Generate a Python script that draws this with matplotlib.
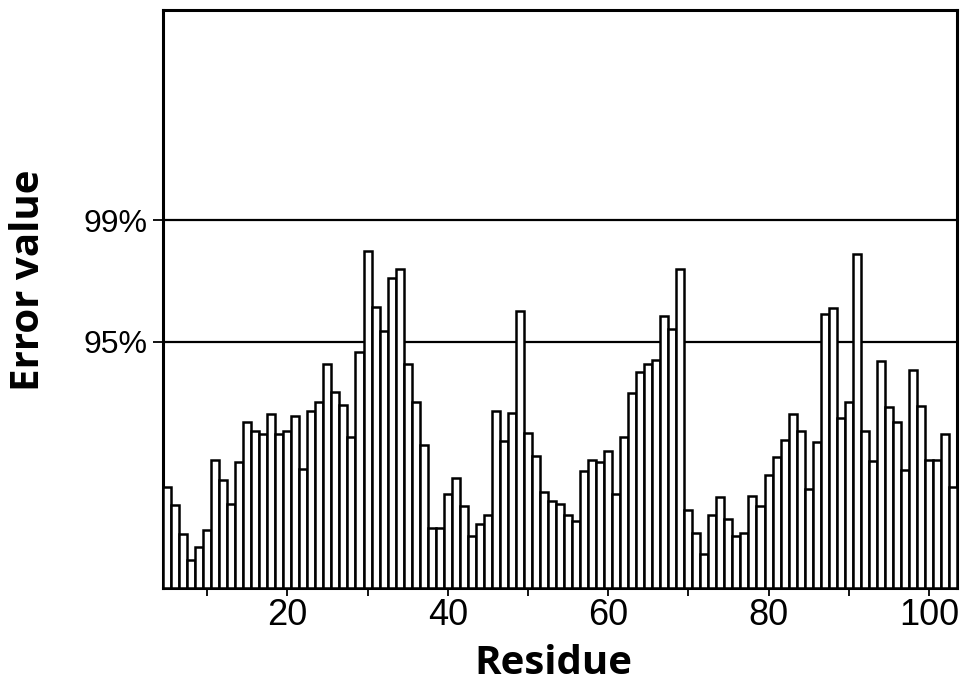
import matplotlib
matplotlib.use("Agg")
import matplotlib.pyplot as plt

# Residue numbers and error values (arbitrary units)
residues = list(range(5, 104))
errors = [101, 83, 54, 28, 41, 58, 128, 108, 84, 126,
          166, 157, 154, 174, 154, 157, 172, 119, 177, 186,
          224, 196, 183, 151, 236, 336, 281, 257, 309, 318,
          224, 186, 143, 60, 60, 94, 110, 82, 52, 64,
          73, 177, 147, 175, 277, 155, 132, 96, 87, 84,
          73, 67, 117, 128, 126, 137, 94, 151, 195, 216,
          224, 228, 272, 259, 318, 78, 55, 34, 73, 91,
          69, 52, 55, 92, 82, 113, 131, 148, 174, 157,
          99, 146, 274, 280, 170, 186, 333, 157, 127, 227,
          181, 166, 118, 218, 182, 128, 128, 154, 101]

threshold_values = [246, 367]
threshold_labels = ["95%", "99%"]
x_ticks = [10, 20, 30, 40, 50, 60, 70, 80, 90, 100]
x_ticklabels = ["", "20", "", "40", "", "60", "", "80", "", "100"]

fig = plt.figure(figsize=(9.79, 6.88), dpi=100)
ax = fig.add_axes([163/979, 1-588/688, (957-163)/979, (588-10)/688])

ax.bar(residues, errors, width=1.0, color="white", edgecolor="black",
       linewidth=1.8, zorder=3)
for t in threshold_values:
    ax.axhline(t, color="black", linewidth=1.6, zorder=2)

ax.set_xlim(4.5, 103.5)
ax.set_ylim(0, 577)

ax.set_xticks(x_ticks)
ax.set_xticklabels(x_ticklabels, fontsize=26, family="Liberation Sans")
ax.set_yticks(threshold_values)
ax.set_yticklabels(threshold_labels, fontsize=23, family="Liberation Sans")
ax.tick_params(axis="x", direction="out", length=6, width=1.3, pad=1)
ax.tick_params(axis="y", direction="out", length=7, width=1.3, pad=4)

for s in ax.spines.values():
    s.set_linewidth(2.2)

fig.text(29/979, 1-280/688, "Error value", rotation=90, ha="center", va="center",
         fontsize=29, fontweight="bold", family="Open Sans")
fig.text(553/979, 1-663/688, "Residue", ha="center", va="center",
         fontsize=29, fontweight="bold", family="Open Sans")

fig.savefig("out.png", dpi=100)
